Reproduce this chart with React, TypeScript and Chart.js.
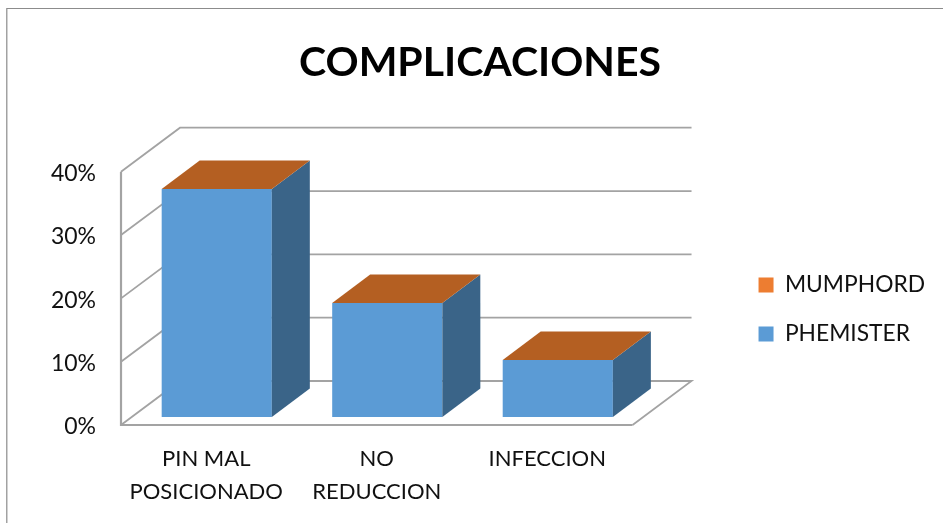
import React, { useEffect, useRef } from "react";
import { Chart, registerables } from "chart.js";

Chart.register(...registerables);

const categories = [["PIN MAL", "POSICIONADO"], ["NO", "REDUCCION"], ["INFECCION"]];
const phemister = [36, 18, 9];
const mumphord = [0, 0, 0];
const yTicks = [0, 10, 20, 30, 40];
const chartTitle = "COMPLICACIONES";

const FONT = "Lato";
const GRID = "#a3a3a3";
const WALL = { dx: 59, dy: -44 };
const BAR_SHIFT = { dx: 10.5, dy: -8 };
const DEPTH = { dx: 38, dy: -28.5 };

const threeD = {
  id: "threeD",
  beforeDraw(chart: any) {
    const { ctx, width, height } = chart;
    ctx.save();
    ctx.fillStyle = "#ffffff";
    ctx.fillRect(0, 0, width, height);
    ctx.strokeStyle = "#8c8c8c";
    ctx.lineWidth = 1.2;
    ctx.beginPath();
    ctx.moveTo(6.8, height);
    ctx.lineTo(6.8, 8.5);
    ctx.lineTo(width, 8.5);
    ctx.stroke();
    ctx.restore();
  },
  beforeDatasetsDraw(chart: any) {
    const { ctx, chartArea: a, scales } = chart;
    const y = scales.y;
    ctx.save();
    ctx.strokeStyle = GRID;
    ctx.lineWidth = 1.8;
    ctx.lineJoin = "miter";
    yTicks.forEach((v) => {
      const py = y.getPixelForValue(v);
      ctx.beginPath();
      ctx.moveTo(a.left, py);
      ctx.lineTo(a.left + WALL.dx, py + WALL.dy);
      ctx.lineTo(a.right + WALL.dx, py + WALL.dy);
      if (v === 0) ctx.lineTo(a.right, py);
      ctx.stroke();
    });
    ctx.lineWidth = 2.2;
    ctx.beginPath();
    ctx.moveTo(a.left, y.getPixelForValue(yTicks[yTicks.length - 1]));
    ctx.lineTo(a.left, a.bottom);
    ctx.lineTo(a.right, a.bottom);
    ctx.stroke();
    ctx.restore();
    ctx.save();
    ctx.translate(BAR_SHIFT.dx, BAR_SHIFT.dy);
  },
  afterDatasetsDraw(chart: any) {
    const { ctx } = chart;
    const meta = chart.getDatasetMeta(0);
    meta.data.forEach((el: any) => {
      const l = el.x - el.width / 2;
      const r = el.x + el.width / 2;
      ctx.fillStyle = "#3a6488";
      ctx.beginPath();
      ctx.moveTo(r, el.y);
      ctx.lineTo(r + DEPTH.dx, el.y + DEPTH.dy);
      ctx.lineTo(r + DEPTH.dx, el.base + DEPTH.dy);
      ctx.lineTo(r, el.base);
      ctx.closePath();
      ctx.fill();
      ctx.fillStyle = "#b45f22";
      ctx.beginPath();
      ctx.moveTo(l, el.y);
      ctx.lineTo(l + DEPTH.dx, el.y + DEPTH.dy);
      ctx.lineTo(r + DEPTH.dx, el.y + DEPTH.dy);
      ctx.lineTo(r, el.y);
      ctx.closePath();
      ctx.fill();
    });
    ctx.restore();
  },
};

export default function App() {
  const ref = useRef<HTMLCanvasElement>(null);
  useEffect(() => {
    const chart = new Chart(ref.current!, {
      type: "bar",
      data: {
        labels: categories as any,
        datasets: [
          { label: "PHEMISTER", data: phemister, backgroundColor: "#5b9bd5", clip: false as any },
          { label: "MUMPHORD", data: mumphord, backgroundColor: "#ed7d31", clip: false as any },
        ],
      },
      options: {
        responsive: false,
        animation: false,
        devicePixelRatio: 1,
        layout: { padding: { top: 96, right: 8, bottom: 0, left: 25 } },
        datasets: { bar: { categoryPercentage: 1, barPercentage: 0.646 } },
        scales: {
          x: {
            stacked: true,
            grid: { display: false },
            border: { display: false },
            afterFit: (s: any) => { s.height = 98; },
            ticks: {
              padding: 9,
              maxRotation: 0,
              autoSkip: false,
              color: "#111111",
              font: { family: FONT, size: 22, lineHeight: 1.5 },
            },
          },
          y: {
            stacked: true,
            min: 0,
            max: 40,
            grid: { display: false, drawTicks: false },
            border: { display: false },
            afterFit: (s: any) => { s.width = 96; },
            ticks: {
              stepSize: 10,
              padding: 25,
              labelOffset: 2,
              color: "#111111",
              font: { family: FONT, size: 23 },
              callback: (v: any) => v + "%",
            },
          },
          spacer: {
            axis: "y",
            position: "right",
            grid: { display: false, drawTicks: false },
            border: { display: false },
            ticks: { display: false },
            afterFit: (s: any) => { s.width = 100; },
          },
        },
        plugins: {
          title: {
            display: true,
            text: chartTitle,
            color: "#000000",
            font: { family: FONT, size: 41, weight: "bold" },
            padding: { top: -58, bottom: 84.5 },
          },
          legend: {
            position: "right",
            reverse: true,
            maxWidth: 220,
            labels: {
              boxWidth: 15,
              boxHeight: 15,
              padding: 26,
              color: "#111111",
              font: { family: FONT, size: 22.8 },
            },
          },
          tooltip: { enabled: false },
        },
      },
      plugins: [threeD],
    } as any);
    return () => chart.destroy();
  }, []);
  return (
    <div style={{ position: "fixed", left: 0, top: 0, width: 943, height: 523 }}>
      <canvas ref={ref} width={943} height={523} style={{ display: "block" }} />
    </div>
  );
}
